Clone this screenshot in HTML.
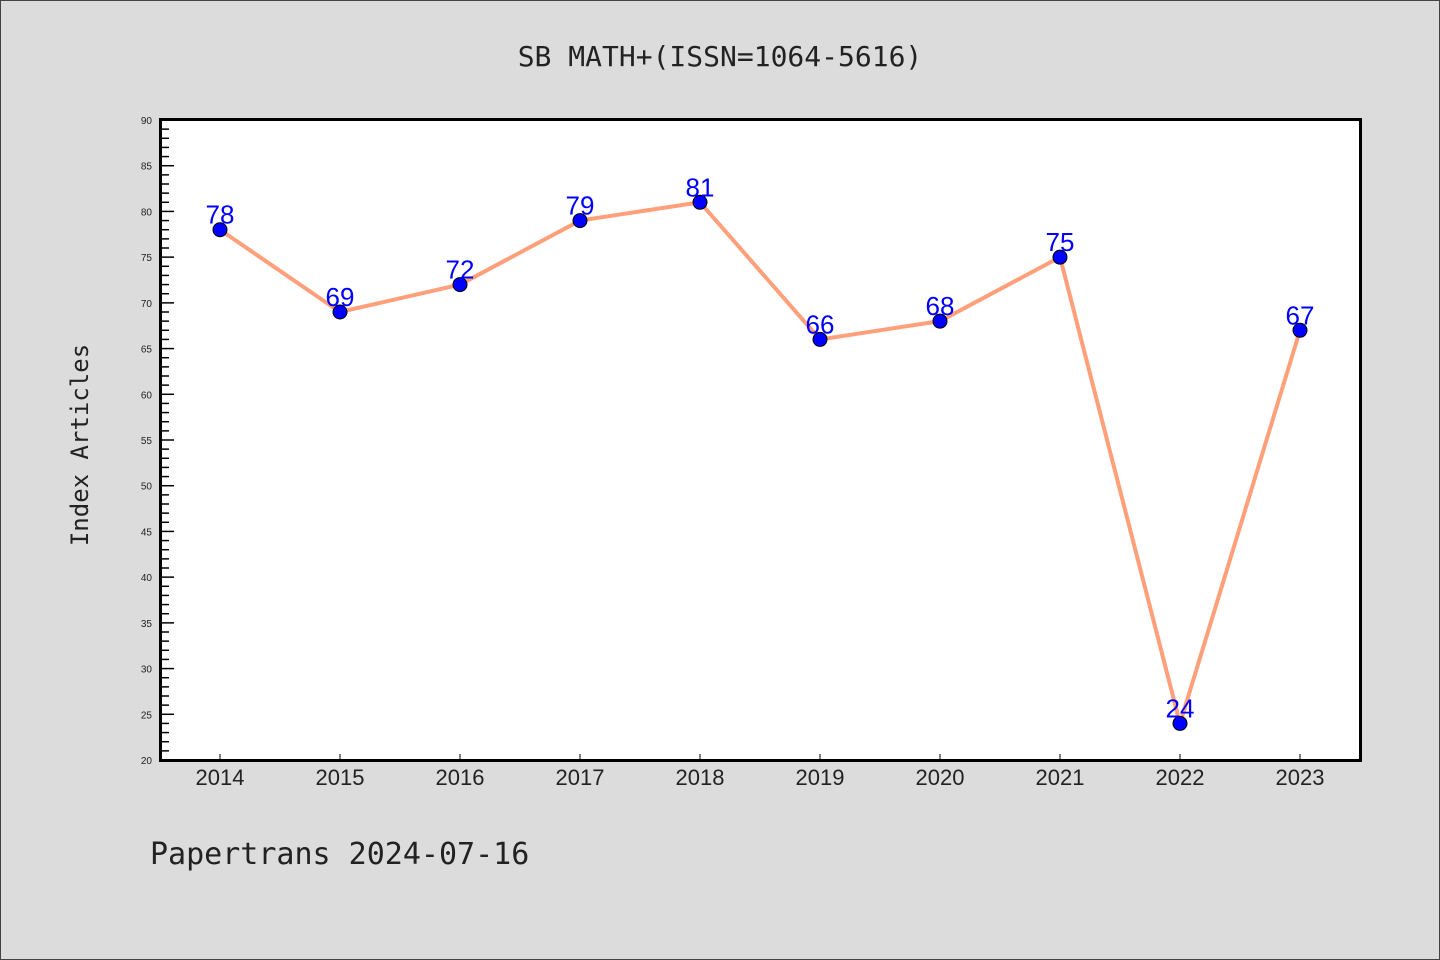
<!DOCTYPE html>
<html><head><meta charset="utf-8"><style>
body{margin:0;background:#dcdcdc;}
svg{display:block;font-family:"Liberation Sans","WenQuanYi Zen Hei",sans-serif;}
</style></head><body>
<svg id="c" width="1440" height="960" xmlns="http://www.w3.org/2000/svg">
<rect x="0.5" y="0.5" width="1439" height="959" fill="#dcdcdc" stroke="#444"/>
<text x="720" y="66" text-anchor="middle" font-size="28" fill="#222" font-family="WenQuanYi Zen Hei, monospace">SB MATH+(ISSN=1064-5616)</text>
<rect x="160.5" y="119.5" width="1200" height="641" fill="#fff"/>
<text transform="translate(88,445) rotate(-90)" text-anchor="middle" font-size="24" fill="#222" font-family="WenQuanYi Zen Hei, monospace">Index Articles</text>
<text x="150" y="864" font-size="30" fill="#222" font-family="WenQuanYi Zen Hei, monospace">Papertrans 2024-07-16</text>
<g id="ticks"></g><g id="series"></g>
<rect x="160.5" y="119.5" width="1200" height="641" fill="none" stroke="#000" stroke-width="3"/>
</svg>
<script>
const years=["2014","2015","2016","2017","2018","2019","2020","2021","2022","2023"];
const values=[78,69,72,79,81,66,68,75,24,67];
const yTicks=[20,25,30,35,40,45,50,55,60,65,70,75,80,85,90];
const NS="http://www.w3.org/2000/svg";
const x=i=>220+i*120;
const y=v=>760-(v-20)*(640/70);
function mk(t,a,p){const e=document.createElementNS(NS,t);for(const k in a)e.setAttribute(k,a[k]);p.appendChild(e);return e;}
const tg=document.getElementById('ticks'),sg=document.getElementById('series');
for(let v=20;v<=90;v++){const l=mk('line',{x1:160,x2:160+(v%5?9:14),y1:y(v),y2:y(v),stroke:'#000','stroke-width':1.5},tg);

}
yTicks.forEach(v=>{const t=mk('text',{x:152,y:y(v)+4,'text-anchor':'end','font-size':10,fill:'#222'},tg);t.textContent=v;

});
years.forEach((yr,i)=>{const l=mk('line',{x1:x(i),x2:x(i),y1:760,y2:754,stroke:'#000','stroke-width':1},tg);


const t=mk('text',{x:x(i),y:785,'text-anchor':'middle','font-size':22,fill:'#222'},tg);t.textContent=yr;

});
const pl=mk('polyline',{points:values.map((v,i)=>x(i)+','+y(v)).join(' '),fill:'none',stroke:'#ffa07a','stroke-width':4},sg);


values.forEach((v,i)=>{const c=mk('circle',{cx:x(i),cy:y(v),r:7,fill:'#0000ff',stroke:'#000','stroke-width':1},sg);


const t=mk('text',{x:x(i),y:y(v)-6,'text-anchor':'middle','font-size':26,fill:'#0000ff'},sg);t.textContent=v;

});
</script>
</body></html>
